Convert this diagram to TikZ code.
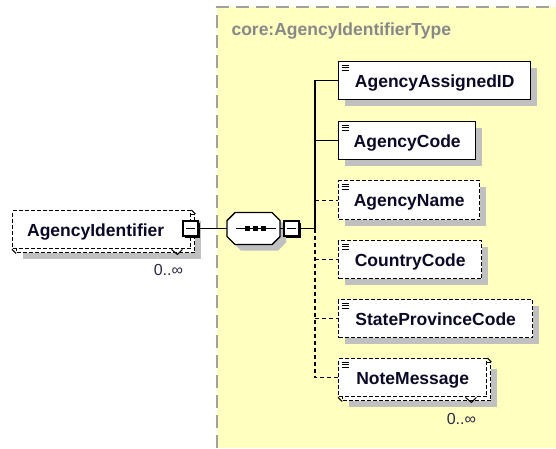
\documentclass[tikz,border=0pt]{standalone}
\usepackage{fontspec}
\setmainfont{Liberation Sans}
\usetikzlibrary{shadows}
\definecolor{ylw}{RGB}{255,255,192}
\definecolor{shd}{RGB}{192,192,192}
\definecolor{brd}{RGB}{160,160,160}
\definecolor{txt}{RGB}{10,10,40}
\definecolor{ttl}{RGB}{136,136,136}
\definecolor{mtx}{RGB}{40,40,70}
\begin{document}
\begin{tikzpicture}[x=1pt,y=-1pt,
  every node/.style={font=\fontsize{17.5}{20}\selectfont\bfseries, text=txt},
  optl/.style={dash pattern=on 4pt off 2pt},
  conn/.style={line width=1.4pt, draw=black},
  optconn/.style={conn, dash pattern=on 4pt off 3pt},
  elem/.style={rectangle, draw=black, line width=1.4pt, fill=white, anchor=north west,
     inner sep=0pt, text height=12.6pt, text depth=0pt,
     drop shadow={shadow xshift=6pt, shadow yshift=-6pt, fill=shd, opacity=1},
     path picture={
       \foreach \k in {3.5,6,8.5}{\draw[line width=1.1pt,black,solid] ([shift={(3pt,-\k pt)}]path picture bounding box.north west) -- ++(7pt,0pt);}
     }},
  multielem/.style={rectangle, draw=black, line width=1.4pt, fill=white, anchor=north west,
     inner sep=0pt, text height=12.6pt, text depth=0pt, optl,
     drop shadow={shadow xshift=10pt, shadow yshift=-10pt, fill=shd, opacity=1},
     general shadow={shadow xshift=4pt, shadow yshift=-4pt, fill=white, draw=black, line width=1.4pt, dash pattern=on 4pt off 2pt}},
  elemicon/.style={path picture={
       \foreach \k in {3.5,6,8.5}{\draw[line width=1.1pt,black,solid] ([shift={(3pt,-\k pt)}]path picture bounding box.north west) -- ++(7pt,0pt);}
     }},
  minbox/.style={rectangle, draw=black, line width=1.4pt, fill=white, minimum size=15pt, inner sep=0pt,
     drop shadow={shadow xshift=2pt, shadow yshift=-2pt, fill=black, opacity=1},
     path picture={\draw[line width=1.3pt,black] ([xshift=3pt]path picture bounding box.west) -- ([xshift=-3pt]path picture bounding box.east);}},
  octfill/.style={fill=white, draw=black, line width=1.4pt},
  octshadow/.style={fill=shd},
  seqnode/.style={rectangle, minimum width=53pt, minimum height=32pt, inner sep=0pt},
  multlabel/.style={font=\fontsize{16}{18}\selectfont, text=mtx},
  notch/.style={line width=1pt, draw=black}
]
\useasboundingbox (0,0) rectangle (556,448);
% complex type area
\fill[ylw] (217,7) rectangle (556,448);
\draw[brd, line width=2pt, dash pattern=on 13pt off 7pt] (217,448) -- (217,7) -- (556,7);
\node[anchor=base west, text=ttl] (title) at (228,35.5) {core:AgencyIdentifierType};

% root element
\node[multielem, minimum width=178pt, minimum height=38pt] (aid) at (12,210) {\hspace*{-12pt}AgencyIdentifier};
\draw[notch] (aid.north east) -- ++(4,4);
\draw[notch] (aid.south west) -- ++(4,4);
\draw[notch] ([xshift=-20pt]aid.south east) -- ++(6,5) -- ++(5,-5);
\node[multlabel] (aidm) at ([shift={(-23,21)}]aid.south east) {0..∞};
\node[minbox] (aidmin) at (190.5,228.5) {};

% sequence compositor (octagon)
\begin{scope}[shift={(259.5,234.5)}]
  \fill[octshadow] (-18.5,-16) -- (18.5,-16) -- (26.5,-8) -- (26.5,8) -- (18.5,16) -- (-18.5,16) -- (-26.5,8) -- (-26.5,-8) -- cycle;
\end{scope}
\begin{scope}[shift={(253.5,228.5)}]
  \draw[octfill] (-18.5,-16) -- (18.5,-16) -- (26.5,-8) -- (26.5,8) -- (18.5,16) -- (-18.5,16) -- (-26.5,8) -- (-26.5,-8) -- cycle;
  \draw[line width=1.4pt] (-18,0) -- (22,0);
  \foreach \d in {-6,2,10}{\fill (\d-2.2,-2.2) rectangle (\d+2.2,2.2);}
\end{scope}
\node[seqnode] (seq) at (253.5,228.5) {};
\node[minbox] (seqmin) at (291.5,228.5) {};
\coordinate (sp) at (315,228.5);

% children
\node[elem, minimum width=192pt, minimum height=38pt] (aaid) at (338,61) {AgencyAssignedID};
\node[elem, minimum width=137pt, minimum height=38pt] (acode) at (338,121) {AgencyCode};
\node[elem, optl, minimum width=141pt, minimum height=39pt] (aname) at (338,180) {AgencyName};
\node[elem, optl, minimum width=143pt, minimum height=38pt] (ccode) at (338,240) {CountryCode};
\node[elem, optl, minimum width=194pt, minimum height=38pt] (spcode) at (338,299) {StateProvinceCode};
\node[multielem, elemicon, minimum width=148pt, minimum height=38pt] (note) at (338,358) {NoteMessage};
\draw[notch] (note.north east) -- ++(4,4);
\draw[notch] (note.south west) -- ++(4,4);
\draw[notch] ([xshift=-22pt]note.south east) -- ++(6,5) -- ++(5,-5);
\node[multlabel] (notem) at ([shift={(-26,22)}]note.south east) {0..∞};

% connectors
\draw[conn] (aidmin.east) -- (seq.west);
\draw[conn] (seq.east) -- (seqmin.west);
\draw[conn] (seqmin.east) -- (sp);
\draw[conn] (sp) |- (aaid.west);
\draw[conn] (sp |- acode.west) -- (acode.west);
\draw[optconn] (sp) -- (sp |- note.west) -- (note.west);
\draw[optconn] (sp |- aname.west) -- (aname.west);
\draw[optconn] (sp |- ccode.west) -- (ccode.west);
\draw[optconn] (sp |- spcode.west) -- (spcode.west);
\end{tikzpicture}
\end{document}
